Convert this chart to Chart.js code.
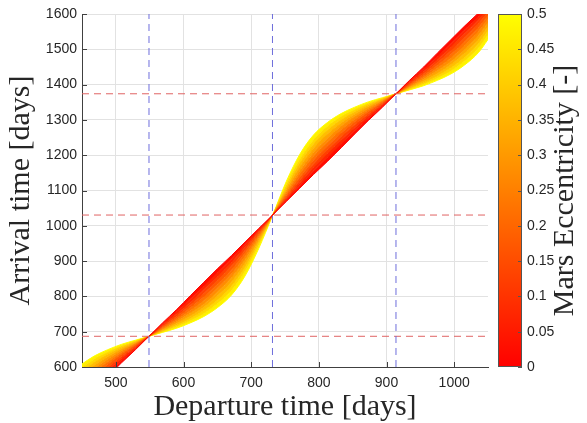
<!DOCTYPE html>
<html lang="en">
<head>
<meta charset="UTF-8" />
<title>Arrival vs departure time</title>
<script src="https://cdn.jsdelivr.net/npm/chart.js"></script>
<style>
  html, body { margin: 0; padding: 0; background: #fff; }
</style>
</head>
<body>
<canvas id="transferChart" width="587" height="423"></canvas>
<script>
// departure times shared by every eccentricity curve [days]
const departure = [448, 468, 488, 508, 529, 549, 569, 590, 610, 630, 650, 671, 691, 711, 732,
                   752, 772, 792, 813, 833, 853, 873, 894, 914, 934, 955, 975, 995, 1015, 1036, 1056];

const eccentricities = [0, 0.05, 0.1, 0.15, 0.2, 0.25, 0.3, 0.35, 0.4, 0.45, 0.5];

// arrival times [days], one array per eccentricity
const arrivalE000 = [496, 534, 573, 611, 649, 687, 725, 763, 802, 840, 878, 916, 954, 992, 1031,
                     1069, 1107, 1145, 1183, 1221, 1260, 1298, 1336, 1374, 1412, 1450, 1489, 1527, 1565, 1603, 1641];
const arrivalE005 = [507, 545, 582, 618, 652, 687, 722, 757, 792, 829, 867, 906, 947, 988, 1031,
                     1073, 1114, 1155, 1194, 1232, 1269, 1305, 1339, 1374, 1409, 1444, 1479, 1516, 1554, 1593, 1634];
const arrivalE010 = [518, 556, 591, 624, 656, 687, 718, 750, 783, 819, 856, 896, 939, 984, 1031,
                     1077, 1122, 1165, 1205, 1243, 1278, 1311, 1343, 1374, 1405, 1437, 1470, 1506, 1543, 1583, 1626];
const arrivalE015 = [529, 566, 599, 630, 659, 687, 715, 744, 775, 808, 845, 886, 931, 980, 1031,
                     1081, 1130, 1175, 1216, 1253, 1286, 1317, 1346, 1374, 1402, 1431, 1462, 1495, 1532, 1573, 1618];
const arrivalE020 = [540, 576, 608, 636, 662, 687, 712, 738, 767, 798, 834, 875, 923, 975, 1031,
                     1086, 1138, 1186, 1227, 1263, 1295, 1323, 1349, 1374, 1399, 1425, 1454, 1485, 1521, 1562, 1610];
const arrivalE025 = [551, 586, 615, 641, 665, 687, 709, 733, 759, 788, 823, 864, 913, 970, 1031,
                     1091, 1148, 1197, 1238, 1273, 1302, 1328, 1352, 1374, 1396, 1420, 1446, 1475, 1510, 1551, 1600];
const arrivalE030 = [562, 596, 623, 646, 667, 687, 707, 728, 752, 778, 812, 853, 904, 964, 1031,
                     1097, 1157, 1208, 1249, 1283, 1310, 1333, 1354, 1374, 1394, 1415, 1439, 1465, 1499, 1540, 1591];
const arrivalE035 = [574, 605, 630, 651, 670, 687, 704, 723, 744, 769, 801, 841, 893, 958, 1031,
                     1103, 1168, 1220, 1261, 1292, 1317, 1338, 1357, 1374, 1391, 1410, 1431, 1456, 1488, 1528, 1580];
const arrivalE040 = [585, 614, 637, 656, 672, 687, 702, 718, 737, 760, 789, 829, 882, 951, 1031,
                     1110, 1179, 1232, 1272, 1301, 1324, 1343, 1359, 1374, 1389, 1405, 1424, 1447, 1476, 1516, 1569];
const arrivalE045 = [596, 623, 643, 660, 674, 687, 700, 714, 731, 751, 779, 817, 871, 944, 1031,
                     1118, 1190, 1244, 1283, 1310, 1330, 1347, 1361, 1374, 1387, 1401, 1418, 1438, 1466, 1504, 1558];
const arrivalE050 = [606, 631, 649, 664, 676, 687, 698, 710, 725, 743, 768, 804, 858, 935, 1031,
                     1126, 1203, 1257, 1293, 1318, 1336, 1351, 1363, 1374, 1385, 1397, 1412, 1430, 1455, 1491, 1545];
const arrivals = [arrivalE000, arrivalE005, arrivalE010, arrivalE015, arrivalE020, arrivalE025,
                  arrivalE030, arrivalE035, arrivalE040, arrivalE045, arrivalE050];

// dashed reference lines
const departureMarks = [549, 731.5, 914];
const arrivalMarks = [687, 1030.5, 1374];

// axis limits and tick labels
const xLimits = [450, 1050];
const yLimits = [600, 1600];
const eLimits = [0, 0.5];
const xTickValues = [500, 600, 700, 800, 900, 1000];
const yTickValues = [600, 700, 800, 900, 1000, 1100, 1200, 1300, 1400, 1500, 1600];
const eTickValues = [0, 0.05, 0.1, 0.15, 0.2, 0.25, 0.3, 0.35, 0.4, 0.45, 0.5];

// matlab "autumn" colormap
function autumn(e) {
    const g = Math.round(255 * (e - eLimits[0]) / (eLimits[1] - eLimits[0]));
    return `rgb(255, ${g}, 0)`;
}

const datasets = [];
arrivals.forEach((arr, i) => {
    const e = eccentricities[i];
    const ds = {
        label: 'e = ' + e,
        data: departure.map((d, k) => ({ x: d, y: arr[k] })),
        borderColor: autumn(e),
        borderWidth: 1,
        pointRadius: 0,
        cubicInterpolationMode: 'monotone',
        fill: false,
        order: 2
    };
    if (i > 0) {
        ds.fill = '-1';
        ds.backgroundColor = autumn((e + eccentricities[i - 1]) / 2);
    }
    datasets.push(ds);
});
departureMarks.forEach(d => {
    datasets.push({
        data: [{ x: d, y: yLimits[0] }, { x: d, y: yLimits[1] }],
        borderColor: '#6e6edc',
        borderWidth: 1,
        borderDash: [7, 5],
        pointRadius: 0,
        fill: false,
        order: 0
    });
});
arrivalMarks.forEach(a => {
    datasets.push({
        data: [{ x: xLimits[0], y: a }, { x: xLimits[1], y: a }],
        borderColor: '#e06464',
        borderWidth: 1,
        borderDash: [7, 5],
        pointRadius: 0,
        fill: false,
        order: 0
    });
});

const tickFont = { family: 'Liberation Sans', size: 14 };
const titleFont = { family: 'Liberation Serif', size: 30, lineHeight: 1.07 };
const inkColor = '#262626';
const gridColor = '#e2e2e2';

function fixedTicks(values) {
    return scale => { scale.ticks = values.map(v => ({ value: v })); };
}

// inward ticks on the main axes + the colorbar
const decorPlugin = {
    id: 'decor',
    afterDraw(chart) {
        const ctx = chart.ctx;
        const area = chart.chartArea;
        const xs = chart.scales.x, ys = chart.scales.y, cb = chart.scales.cb;
        ctx.save();
        ctx.strokeStyle = '#404040';
        ctx.lineWidth = 1;
        xs.ticks.forEach(t => {
            const px = Math.round(xs.getPixelForValue(t.value)) + 0.5;
            ctx.beginPath(); ctx.moveTo(px, area.bottom); ctx.lineTo(px, area.bottom - 5); ctx.stroke();
        });
        ys.ticks.forEach(t => {
            const py = Math.round(ys.getPixelForValue(t.value)) + 0.5;
            ctx.beginPath(); ctx.moveTo(area.left, py); ctx.lineTo(area.left + 5, py); ctx.stroke();
        });

        const x0 = area.right + 10, w = 24;
        const grad = ctx.createLinearGradient(0, cb.bottom, 0, cb.top);
        grad.addColorStop(0, autumn(eLimits[0]));
        grad.addColorStop(1, autumn(eLimits[1]));
        ctx.fillStyle = grad;
        ctx.fillRect(x0, cb.top, w, cb.bottom - cb.top);
        ctx.strokeStyle = '#555';
        ctx.strokeRect(x0 + 0.5, cb.top + 0.5, w - 1, cb.bottom - cb.top - 1);
        cb.ticks.forEach(t => {
            const py = Math.round(cb.getPixelForValue(t.value)) + 0.5;
            ctx.beginPath(); ctx.moveTo(x0 + w - 4, py); ctx.lineTo(x0 + w, py); ctx.stroke();
        });

        ctx.translate(573, (cb.top + cb.bottom) / 2);
        ctx.rotate(-Math.PI / 2);
        ctx.font = '30px "Liberation Serif"';
        ctx.fillStyle = inkColor;
        ctx.textAlign = 'center';
        ctx.textBaseline = 'alphabetic';
        ctx.fillText('Mars Eccentricity [-]', 0, 0);
        ctx.restore();
    }
};

new Chart(document.getElementById('transferChart'), {
    type: 'line',
    data: { datasets: datasets },
    plugins: [decorPlugin],
    options: {
        responsive: false,
        animation: false,
        layout: { padding: { top: 14, left: 0, right: 0, bottom: 0 } },
        plugins: {
            legend: { display: false },
            tooltip: { enabled: false }
        },
        scales: {
            x: {
                type: 'linear',
                min: xLimits[0],
                max: xLimits[1],
                afterBuildTicks: fixedTicks(xTickValues),
                afterFit: s => { s.height = 56; s.paddingLeft = 0; s.paddingRight = 0; },
                ticks: { font: tickFont, color: inkColor, padding: 8, maxRotation: 0, autoSkip: false,
                         callback: v => String(v) },
                grid: { color: gridColor, drawTicks: false },
                border: { color: '#404040' },
                title: { display: true, text: 'Departure time [days]', font: titleFont, color: inkColor, padding: 0 }
            },
            y: {
                type: 'linear',
                min: yLimits[0],
                max: yLimits[1],
                afterBuildTicks: fixedTicks(yTickValues),
                afterFit: s => { s.width = 82; s.paddingTop = 0; s.paddingBottom = 0; },
                ticks: { font: tickFont, color: inkColor, padding: 5, autoSkip: false, callback: v => String(v) },
                grid: { color: gridColor, drawTicks: false },
                border: { color: '#404040' },
                title: { display: true, text: 'Arrival time [days]', font: titleFont, color: inkColor, padding: { top: 5, bottom: 0 } }
            },
            cb: {
                type: 'linear',
                position: 'right',
                min: eLimits[0],
                max: eLimits[1],
                afterBuildTicks: fixedTicks(eTickValues),
                afterFit: s => { s.width = 99; s.paddingTop = 0; s.paddingBottom = 0; },
                ticks: { font: tickFont, color: inkColor, padding: 39, autoSkip: false, callback: v => String(v) },
                grid: { display: false, drawTicks: false },
                border: { display: false }
            }
        }
    }
});
</script>
</body>
</html>
